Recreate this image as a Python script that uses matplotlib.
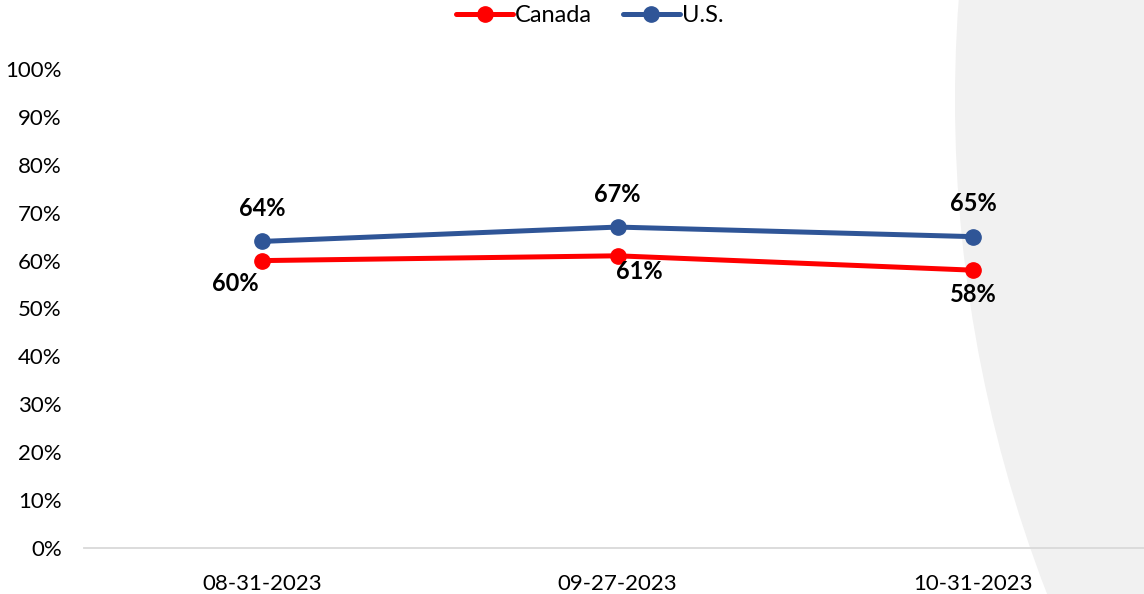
import matplotlib.pyplot as plt
from matplotlib.patches import Ellipse
from matplotlib.ticker import PercentFormatter

plt.rcParams['font.family'] = ['Lato', 'DejaVu Sans']

dates = ['08-31-2023', '09-27-2023', '10-31-2023']
canada = [60, 61, 58]
us = [64, 67, 65]

red = '#ff0000'
blue = '#2f5597'

fig = plt.figure(figsize=(11.44, 5.94), dpi=100)

# light grey curved panel on the right (slide background)
W, H = 1144, 594
R = 1372
bg = Ellipse(((955 + R) / W, (H - 100) / H), 2 * R / W, 2 * R / H,
             transform=fig.transFigure, facecolor='#f1f1f1', edgecolor='none', zorder=-5)
fig.patches.append(bg)

ax = fig.add_axes([84 / W, (H - 548) / H, 1067 / W, 479 / H])
ax.set_zorder(2)
ax.set_facecolor('none')

x = range(len(dates))
ax.plot(x, canada, color=red, lw=3.6, marker='o', ms=11, label='Canada', solid_capstyle='round')
ax.plot(x, us, color=blue, lw=3.6, marker='o', ms=11, label='U.S.', solid_capstyle='round')

# data labels
ca_off = [(-27, -23), (22, -16), (0, -24)]
for i, v in enumerate(canada):
    ax.annotate(f'{v}%', (i, v), xytext=ca_off[i], textcoords='offset pixels',
                ha='center', va='center', fontsize=17, fontweight='bold')
for i, v in enumerate(us):
    ax.annotate(f'{v}%', (i, v), xytext=(0, 33), textcoords='offset pixels',
                ha='center', va='center', fontsize=17, fontweight='bold')

ax.set_xlim(-0.5, 2.5)
ax.set_ylim(0, 100)
ax.set_xticks(list(x))
ax.set_xticklabels(dates)
ax.set_yticks(range(0, 101, 10))
ax.yaxis.set_major_formatter(PercentFormatter(decimals=0))
ax.tick_params(length=0, labelsize=16, colors='#000000')
ax.tick_params(axis='x', pad=19)
ax.tick_params(axis='y', pad=16)
for s in ['top', 'right', 'left']:
    ax.spines[s].set_visible(False)
ax.spines['bottom'].set_color('#d9d9d9')
ax.spines['bottom'].set_linewidth(1.3)

fig.legend(loc='center', bbox_to_anchor=(590 / W, 1 - 16 / H), ncol=2, frameon=False,
           fontsize=17, handlelength=2.4, handletextpad=0.1, columnspacing=1.3)

fig.savefig('out.png', dpi=100)
